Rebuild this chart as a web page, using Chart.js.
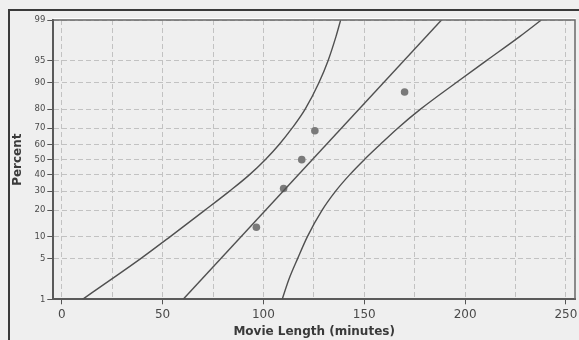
<!DOCTYPE html>
<html>
<head>
<meta charset="utf-8">
<script src="https://cdn.jsdelivr.net/npm/chart.js@4.4.1/dist/chart.umd.min.js"></script>
<style>
  html, body { margin: 0; padding: 0; background: #efefef; overflow: hidden; }
  canvas { display: block; }
</style>
</head>
<body>
<canvas id="chart" width="579" height="340"></canvas>
<script>
// --- DATA ---
const movieLengths = [96.5, 110, 119, 125.5, 170];
const plotPercents = [13, 31.5, 50, 68.5, 87];

// fitted line, ends at the 1% and 99% edges
const fitLengths = [60.2, 188.3];
const fitPercents = [1, 99];

// left confidence curve
const leftBandLengths  = [10.3, 24.5, 39.3, 53.8, 71, 83.2, 93, 100.9, 107.8, 114.2, 120.7, 127.5, 132, 136, 138.3];
const leftBandPercents = [1, 2.3, 5, 10, 20, 30, 40, 50, 60, 70, 80, 90, 95, 98, 99];

// right confidence curve
const rightBandLengths  = [109.3, 112.6, 117, 121.8, 129.1, 135.8, 142.7, 150, 157.9, 166.6, 177.9, 195.5, 210.4, 227.2, 237.8];
const rightBandPercents = [1, 2.3, 5, 10, 20, 30, 40, 50, 60, 70, 80, 90, 95, 98, 99];

const percentTicks = [1, 5, 10, 20, 30, 40, 50, 60, 70, 80, 90, 95, 99];
const lengthTicks = [0, 25, 50, 75, 100, 125, 150, 175, 200, 225, 250];

// --- normal distribution helpers for the probability axis ---
function probit(p) {
    // Acklam's inverse normal CDF
    const a = [-39.69683028665376, 220.9460984245205, -275.9285104469687, 138.3577518672690, -30.66479806614716, 2.506628277459239];
    const b = [-54.47609879822406, 161.5858368580409, -155.6989798598866, 66.80131188771972, -13.28068155288572];
    const c = [-0.007784894002430293, -0.3223964580411365, -2.400758277161838, -2.549732539343734, 4.374664141464968, 2.938163982698783];
    const d = [0.007784695709041462, 0.3224671290700398, 2.445134137142996, 3.754408661907416];
    const pl = 0.02425, ph = 1 - pl;
    let q, r;
    if (p < pl) {
        q = Math.sqrt(-2 * Math.log(p));
        return (((((c[0]*q+c[1])*q+c[2])*q+c[3])*q+c[4])*q+c[5]) / ((((d[0]*q+d[1])*q+d[2])*q+d[3])*q+1);
    }
    if (p <= ph) {
        q = p - 0.5; r = q * q;
        return (((((a[0]*r+a[1])*r+a[2])*r+a[3])*r+a[4])*r+a[5])*q / (((((b[0]*r+b[1])*r+b[2])*r+b[3])*r+b[4])*r+1);
    }
    q = Math.sqrt(-2 * Math.log(1 - p));
    return -(((((c[0]*q+c[1])*q+c[2])*q+c[3])*q+c[4])*q+c[5]) / ((((d[0]*q+d[1])*q+d[2])*q+d[3])*q+1);
}
function normCdf(z) {
    const t = 1 / (1 + 0.2316419 * Math.abs(z));
    const poly = t * (0.319381530 + t * (-0.356563782 + t * (1.781477937 + t * (-1.821255978 + t * 1.330274429))));
    const v = 1 - Math.exp(-z * z / 2) / Math.sqrt(2 * Math.PI) * poly;
    return z >= 0 ? v : 1 - v;
}

// normal probability axis: percent values placed on a z-score scale
class ProbabilityScale extends Chart.LinearScale {
    static id = 'probability';
    determineDataLimits() {
        this.min = this.options.min;
        this.max = this.options.max;
    }
    buildTicks() {
        return percentTicks.map(value => ({ value }));
    }
    configure() {
        super.configure();
        this._zLow = probit(this.min / 100);
        this._zHigh = probit(this.max / 100);
    }
    getPixelForValue(value) {
        const z = probit(value / 100);
        return this.getPixelForDecimal((z - this._zLow) / (this._zHigh - this._zLow));
    }
    getValueForPixel(pixel) {
        const z = this._zLow + this.getDecimalForPixel(pixel) * (this._zHigh - this._zLow);
        return normCdf(z) * 100;
    }
}
Chart.register(ProbabilityScale);

const zip = (xs, ys) => xs.map((x, i) => ({ x, y: ys[i] }));

// window frame behind the chart and plot box outline on top
const plotFrame = {
    id: 'plotFrame',
    beforeDraw(chart) {
        const { ctx, width, height } = chart;
        ctx.save();
        ctx.strokeStyle = '#3a3a3a';
        ctx.lineWidth = 2;
        ctx.beginPath();
        ctx.moveTo(9, height);
        ctx.lineTo(9, 10);
        ctx.lineTo(width, 10);
        ctx.stroke();
        ctx.restore();
    },
    afterDraw(chart) {
        const { ctx, chartArea: a } = chart;
        ctx.save();
        ctx.strokeStyle = '#ffffff';
        ctx.lineWidth = 1;
        ctx.beginPath();
        ctx.moveTo(a.left, a.top - 1.5);
        ctx.lineTo(a.right + 1, a.top - 1.5);
        ctx.stroke();
        ctx.strokeStyle = '#6a6a6a';
        ctx.lineWidth = 1.5;
        ctx.beginPath();
        ctx.moveTo(a.left, a.top);
        ctx.lineTo(a.right, a.top);
        ctx.lineTo(a.right, a.bottom);
        ctx.stroke();
        ctx.restore();
    }
};

const lineStyle = {
    showLine: true, pointRadius: 0, borderColor: '#505050', borderWidth: 1.4, fill: false,
    cubicInterpolationMode: 'monotone'
};

new Chart(document.getElementById('chart'), {
    type: 'scatter',
    data: {
        datasets: [
            { ...lineStyle, data: zip(leftBandLengths, leftBandPercents) },
            { ...lineStyle, data: zip(fitLengths, fitPercents) },
            { ...lineStyle, data: zip(rightBandLengths, rightBandPercents) },
            {
                data: zip(movieLengths, plotPercents),
                pointRadius: 3.8, pointBackgroundColor: '#7a7a7a', pointBorderWidth: 0
            }
        ]
    },
    options: {
        responsive: false,
        animation: false,
        devicePixelRatio: 1,
        layout: { padding: { top: 20, right: 3.3, left: 0, bottom: 0 } },
        plugins: { legend: { display: false }, tooltip: { enabled: false } },
        scales: {
            x: {
                type: 'linear',
                min: -4.2,
                max: 254.5,
                afterBuildTicks: scale => { scale.ticks = lengthTicks.map(value => ({ value })); },
                afterFit: scale => {
                    scale.height = 40.7;
                    scale.paddingLeft = 0;
                    scale.paddingRight = 0;
                },
                ticks: {
                    autoSkip: false, maxRotation: 0, padding: 3, color: '#4a4a4a',
                    font: { family: 'DejaVu Sans', size: 12 },
                    callback: v => (v % 50 === 0 ? String(v) : '')
                },
                grid: {
                    color: '#c2c2c2', lineWidth: 1, tickLength: 5,
                    tickColor: ctx => (ctx.tick && ctx.tick.value % 50 === 0 ? '#555555' : 'rgba(0,0,0,0)')
                },
                border: { color: '#5a5a5a', width: 2, dash: [5, 3] },
                title: {
                    display: true, text: 'Movie Length (minutes)', color: '#3a3a3a',
                    font: { family: 'DejaVu Sans', size: 12, weight: 'bold' },
                    padding: { top: 0, bottom: 0.8 }
                }
            },
            y: {
                type: 'probability',
                min: 1,
                max: 99,
                afterFit: scale => {
                    scale.width = 53.3;
                    scale.paddingTop = 0;
                    scale.paddingBottom = 0;
                },
                ticks: {
                    autoSkip: false, padding: 2, color: '#4a4a4a',
                    font: { family: 'DejaVu Sans', size: 8.5 },
                    callback: v => String(v)
                },
                grid: { color: '#c2c2c2', lineWidth: 1, tickLength: 6, tickColor: '#555555' },
                border: { color: '#5a5a5a', width: 2, dash: [5, 3] },
                title: {
                    display: true, text: 'Percent', color: '#3a3a3a',
                    font: { family: 'DejaVu Sans', size: 12, weight: 'bold' },
                    padding: { top: 10.8, bottom: 0 }
                }
            }
        }
    },
    plugins: [plotFrame]
});
</script>
</body>
</html>
